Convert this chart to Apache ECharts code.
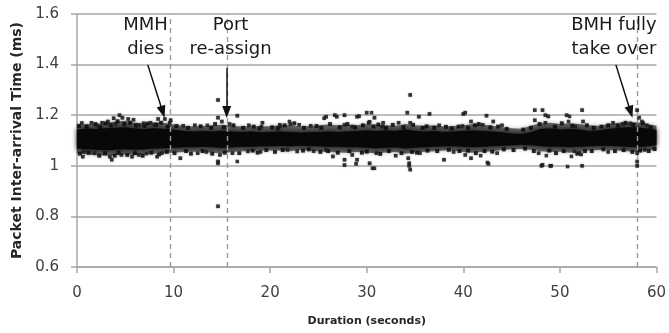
<!DOCTYPE html>
<html>
<head>
<meta charset="utf-8">
<script src="https://cdn.jsdelivr.net/npm/echarts@6/dist/echarts.min.js"></script>
<style>
html,body{margin:0;padding:0;background:#fff;}
#c{width:669px;height:333px;}
</style>
</head>
<body>
<div id="c"></div>
<script>
// ---- data ----
const yTickLabels = ['0.6', '0.8', '1', '1.2', '1.4', '1.6'];
const xTickLabels = ['0', '10', '20', '30', '40', '50', '60'];

// dense core of the packet cloud, per second (ms)
const bandSeconds = [0,1,2,3,4,5,6,7,8,9,10,11,12,13,14,15,16,17,18,19,20,21,22,23,24,25,26,27,28,29,30,31,32,33,34,35,36,37,38,39,40,41,42,43,44,45,46,47,48,49,50,51,52,53,54,55,56,57,58,59,60];
const bandTop = [1.142,1.147,1.145,1.148,1.150,1.152,1.147,1.145,1.148,1.145,1.142,1.138,1.136,1.138,1.136,1.139,1.136,1.134,1.136,1.133,1.134,1.136,1.134,1.132,1.133,1.134,1.136,1.134,1.136,1.138,1.140,1.138,1.140,1.138,1.143,1.138,1.136,1.138,1.134,1.136,1.138,1.140,1.138,1.136,1.133,1.128,1.126,1.133,1.145,1.147,1.143,1.145,1.143,1.138,1.140,1.145,1.149,1.152,1.152,1.147,1.142];
const bandBottom = [1.068,1.065,1.063,1.061,1.063,1.065,1.063,1.065,1.068,1.069,1.071,1.073,1.073,1.075,1.073,1.071,1.073,1.075,1.075,1.077,1.077,1.078,1.077,1.079,1.078,1.077,1.075,1.075,1.073,1.073,1.071,1.069,1.071,1.073,1.068,1.071,1.073,1.075,1.077,1.077,1.075,1.073,1.075,1.077,1.079,1.081,1.083,1.081,1.078,1.075,1.075,1.073,1.075,1.077,1.078,1.079,1.077,1.075,1.073,1.077,1.081];
// looser fringe of the cloud, per second (ms)
const haloTop = [1.160,1.165,1.163,1.170,1.175,1.178,1.170,1.168,1.172,1.170,1.163,1.158,1.155,1.157,1.160,1.162,1.158,1.155,1.157,1.156,1.156,1.160,1.162,1.155,1.157,1.160,1.163,1.160,1.162,1.160,1.165,1.163,1.160,1.158,1.165,1.160,1.158,1.160,1.155,1.157,1.160,1.165,1.163,1.158,1.152,1.148,1.146,1.158,1.168,1.170,1.165,1.168,1.165,1.160,1.158,1.165,1.170,1.172,1.172,1.165,1.158];
const haloBottom = [1.050,1.045,1.042,1.040,1.042,1.045,1.043,1.045,1.048,1.050,1.052,1.055,1.056,1.057,1.052,1.050,1.055,1.058,1.058,1.060,1.060,1.060,1.058,1.062,1.060,1.058,1.055,1.053,1.052,1.055,1.052,1.050,1.053,1.055,1.048,1.053,1.056,1.058,1.060,1.060,1.055,1.052,1.055,1.058,1.062,1.065,1.066,1.063,1.058,1.055,1.056,1.052,1.055,1.060,1.062,1.062,1.060,1.058,1.055,1.060,1.065];

// scattered packets outside the core [seconds, ms]
const outliers = [
  [0.5,1.169],[1.5,1.170],[2.1,1.160],[2.6,1.170],[3.2,1.175],[3.8,1.188],[4.0,1.165],[4.4,1.200],[4.7,1.190],[5.3,1.185],[5.85,1.182],[6.4,1.160],[6.9,1.168],[7.6,1.170],[8.0,1.162],[8.4,1.185],[9.1,1.185],[9.6,1.170],[9.7,1.180],
  [11.0,1.158],[12.2,1.160],[13.5,1.160],[14.6,1.260],[14.6,1.190],[15.0,1.175],[15.8,1.165],[16.6,1.198],[17.8,1.160],[19.1,1.155],[19.2,1.170],
  [21.0,1.155],[21.0,1.162],[22.0,1.175],[22.1,1.165],[23.0,1.162],[24.2,1.158],[25.6,1.188],[25.8,1.194],[26.7,1.200],[26.9,1.194],[27.7,1.200],[27.7,1.162],[28.5,1.155],[29.0,1.194],[29.2,1.196],
  [30.0,1.210],[30.5,1.210],[30.8,1.190],[30.2,1.170],[30.3,1.174],[31.6,1.155],[31.7,1.170],[33.3,1.170],[34.2,1.210],[34.5,1.280],[34.5,1.170],[35.4,1.194],[36.5,1.205],[37.5,1.160],[39.9,1.157],[40.0,1.205],
  [40.2,1.210],[40.8,1.175],[42.0,1.162],[42.4,1.198],[43.1,1.175],[44.0,1.160],[47.4,1.220],[48.2,1.220],[47.4,1.180],[48.5,1.170],[48.8,1.195],[48.5,1.200],[50.7,1.200],[51.0,1.195],[50.9,1.175],[51.6,1.155],[52.3,1.220],[52.4,1.175],[55.5,1.170],[56.5,1.165],[57.3,1.168],[58.0,1.220],[58.5,1.175],[58.2,1.190],[59.0,1.160],
  [0.6,1.036],[0.7,1.057],[1.8,1.050],[3.4,1.036],[3.6,1.024],[4.6,1.043],[5.7,1.036],[6.4,1.043],[7.2,1.048],[8.3,1.036],[8.8,1.050],
  [10.7,1.030],[12.5,1.050],[13.4,1.055],[14.6,1.017],[14.6,1.010],[14.6,0.840],[14.8,1.043],[16.1,1.050],[16.6,1.017],[17.7,1.057],[19.0,1.055],
  [21.8,1.063],[22.8,1.057],[24.5,1.058],[25.8,1.063],[26.5,1.037],[27.7,1.024],[27.7,1.003],[28.5,1.043],[29.0,1.024],[28.9,1.008],
  [30.3,1.010],[30.6,0.990],[30.8,0.990],[31.0,1.050],[33.0,1.040],[34.3,1.030],[34.4,1.010],[34.5,0.985],[34.4,1.000],[35.5,1.050],[38.0,1.024],[39.0,1.055],
  [40.2,1.043],[40.8,1.030],[41.8,1.040],[42.5,1.013],[42.6,1.008],[43.5,1.050],[47.8,1.050],[48.1,1.000],[48.2,1.004],[48.6,1.040],[49.0,1.000],[49.1,1.000],[50.8,0.997],[51.2,1.037],[51.5,1.057],[52.0,1.050],[52.2,1.045],[52.3,1.000],[55.0,1.055],[58.0,1.017],[58.0,1.050],[58.8,1.063],[58.0,1.000]
];

// packets speckling the edge of the cloud [seconds, ms]
const edgePackets = [
  [0.2,1.158],[1.0,1.155],[1.9,1.165],[2.4,1.152],[3.0,1.168],[3.5,1.160],[4.2,1.176],[4.9,1.165],[5.5,1.170],[6.1,1.160],[7.0,1.158],[7.3,1.167],[8.2,1.162],[8.7,1.170],[9.4,1.155],[10.3,1.157],[11.5,1.150],[12.8,1.156],[13.9,1.150],[14.3,1.165],[15.2,1.152],[16.2,1.160],[17.2,1.150],[18.3,1.155],[18.9,1.148],[20.2,1.152],[20.8,1.148],[21.5,1.160],[22.5,1.168],[23.5,1.150],[24.8,1.157],[25.3,1.150],[26.2,1.165],[27.2,1.152],[28.0,1.165],[28.8,1.152],[29.6,1.160],[30.7,1.155],[31.2,1.163],[32.0,1.150],[32.7,1.162],[33.8,1.152],[34.8,1.162],[35.8,1.150],[36.2,1.156],[37.0,1.150],[38.2,1.154],[38.8,1.148],[39.5,1.155],[40.5,1.150],[41.2,1.160],[41.6,1.165],[42.8,1.152],[43.6,1.155],[44.5,1.146],[46.2,1.143],[47.0,1.150],[47.9,1.165],[49.5,1.155],[50.2,1.168],[51.3,1.158],[52.8,1.160],[53.5,1.150],[54.3,1.155],[55.0,1.160],[56.0,1.158],[56.8,1.170],[57.6,1.162],[58.6,1.168],[59.4,1.152],
  [0.3,1.048],[1.2,1.052],[2.3,1.040],[2.9,1.050],[3.9,1.040],[4.3,1.052],[5.2,1.043],[6.0,1.050],[6.8,1.040],[7.7,1.052],[8.5,1.045],[9.3,1.055],[10.1,1.050],[11.3,1.058],[11.8,1.048],[13.0,1.058],[14.0,1.048],[15.3,1.052],[16.8,1.050],[18.2,1.060],[18.7,1.052],[19.6,1.062],[20.5,1.055],[21.3,1.062],[23.4,1.060],[24.0,1.065],[25.2,1.055],[26.0,1.058],[27.0,1.052],[28.2,1.058],[29.5,1.052],[30.0,1.056],[31.4,1.047],[32.3,1.058],[33.6,1.050],[34.7,1.055],[35.2,1.052],[36.3,1.060],[37.3,1.058],[38.5,1.063],[39.6,1.058],[40.5,1.060],[41.3,1.050],[42.2,1.058],[43.0,1.056],[44.2,1.065],[45.2,1.062],[46.4,1.068],[47.3,1.058],[48.9,1.060],[49.6,1.050],[50.4,1.058],[51.8,1.048],[52.6,1.058],[53.3,1.058],[54.5,1.065],[55.7,1.058],[56.6,1.062],[57.5,1.055],[58.3,1.060],[59.2,1.058],[59.8,1.066]
];

// events (seconds)
const eventTimes = [9.7, 15.6, 58.0];
const eventLabels = ['MMH\ndies', 'Port\nre-assign', 'BMH fully\ntake over'];
// label anchor and arrow start/end in data units [seconds, ms]
const labelAnchors = [[7.1, 1.508], [15.9, 1.508], [55.6, 1.508]];
const arrowFrom = [[7.33, 1.399], [15.5, 1.387], [55.8, 1.399]];
const arrowTo = [[8.88, 1.213], [15.5, 1.213], [57.33, 1.213]];

// ---- chart ----
const chart = echarts.init(document.getElementById('c'), null, {renderer: 'canvas'});
const axisGrey = '#a6a6a6';
const textGrey = '#404040';
const font = 'DejaVu Sans';

const yLabelMap = {};
[0.6, 0.8, 1.0, 1.2, 1.4, 1.6].forEach((v, i) => { yLabelMap[v.toFixed(1)] = yTickLabels[i]; });

function bandRenderer(tops, bottoms, style) {
  return function (params, api) {
    const pts = [];
    for (let i = 0; i < bandSeconds.length; i++) pts.push(api.coord([bandSeconds[i], tops[i]]));
    for (let i = bandSeconds.length - 1; i >= 0; i--) pts.push(api.coord([bandSeconds[i], bottoms[i]]));
    return {type: 'polygon', shape: {points: pts, smooth: 0}, style: style};
  };
}

const pointStyle = {color: '#1e1e1e', opacity: 0.85, shadowBlur: 1.5, shadowColor: 'rgba(0,0,0,0.5)'};

chart.setOption({
  animation: false,
  backgroundColor: '#fff',
  grid: {left: 77, right: 11, top: 14, bottom: 66, containLabel: false},
  xAxis: {
    type: 'value', min: 0, max: 60, interval: 10,
    name: 'Duration (seconds)', nameLocation: 'middle', nameGap: 49,
    nameTextStyle: {fontFamily: font, fontWeight: 'bold', fontSize: 11, color: '#262626'},
    axisLine: {show: true, lineStyle: {color: axisGrey, width: 1.5}},
    axisTick: {show: true, inside: false, length: 6, lineStyle: {color: axisGrey, width: 1.5}},
    axisLabel: {margin: 19, fontFamily: font, fontSize: 15, color: textGrey,
      formatter: v => xTickLabels[Math.round(v / 10)]},
    splitLine: {show: false}
  },
  yAxis: {
    type: 'value', min: 0.6, max: 1.6, interval: 0.2,
    name: 'Packet Inter-arrival Time (ms)', nameLocation: 'middle', nameGap: 52,
    nameTextStyle: {fontFamily: font, fontWeight: 'bold', fontSize: 14, color: '#262626'},
    axisLine: {show: true, lineStyle: {color: axisGrey, width: 1.5}},
    axisTick: {show: true, inside: false, length: 6, lineStyle: {color: axisGrey, width: 1.5}},
    axisLabel: {margin: 18, fontFamily: font, fontSize: 15, color: textGrey,
      formatter: v => yLabelMap[v.toFixed(1)]},
    splitLine: {show: true, lineStyle: {color: axisGrey, width: 1.5}}
  },
  series: [
    {
      type: 'custom',
      data: [0],
      silent: true,
      z: 2,
      renderItem: bandRenderer(haloTop, haloBottom,
        {fill: 'rgba(10,10,10,0.58)', shadowBlur: 4, shadowColor: 'rgba(0,0,0,0.45)'}),
      markLine: {
        silent: true,
        symbol: 'none',
        label: {show: false},
        lineStyle: {color: '#9a9a9a', width: 1.4, type: [5, 4]},
        data: eventTimes.map(t => ({xAxis: t}))
      }
    },
    {
      type: 'scatter',
      data: edgePackets,
      symbol: 'rect',
      symbolSize: 3.8,
      z: 3,
      itemStyle: {color: '#111', opacity: 0.85, shadowBlur: 1.5, shadowColor: 'rgba(0,0,0,0.5)'}
    },
    {
      type: 'custom',
      data: [0],
      silent: true,
      z: 4,
      renderItem: bandRenderer(bandTop, bandBottom,
        {fill: '#080808', shadowBlur: 5, shadowColor: 'rgba(0,0,0,0.85)'})
    },
    {
      type: 'scatter',
      data: outliers,
      symbol: 'rect',
      symbolSize: 3.6,
      z: 5,
      itemStyle: pointStyle,
      markLine: {
        silent: true,
        symbol: ['none', 'triangle'],
        symbolSize: [9, 12],
        label: {show: false},
        lineStyle: {color: '#111', width: 1.5, type: 'solid'},
        data: arrowFrom.map((p, i) => [{coord: p}, {coord: arrowTo[i]}])
      }
    }
  ]
});

// annotation texts positioned through the chart's own coordinate system
const graphics = labelAnchors.map((p, i) => {
  const px = chart.convertToPixel({gridIndex: 0}, p);
  return {
    type: 'text', x: px[0], y: px[1], z: 10,
    style: {text: eventLabels[i], fontFamily: font, fontSize: 18, lineHeight: 24,
      fill: '#1a1a1a', align: 'center', verticalAlign: 'middle'}
  };
});
chart.setOption({graphic: graphics});
</script>
</body>
</html>
